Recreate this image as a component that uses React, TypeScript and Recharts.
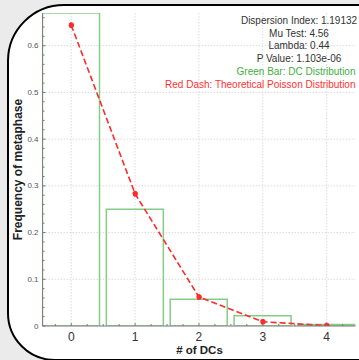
import React from 'react';
import { ComposedChart, Bar, Line, XAxis, YAxis, CartesianGrid } from 'recharts';

// number of DCs per metaphase
const dcCounts = [0, 1, 2, 3, 4];
// observed frequency (green bars)
const observed = [0.67, 0.25, 0.057, 0.022, 0.003];
// theoretical poisson, lambda = 0.44 (red dash)
const poisson = [0.644, 0.283, 0.062, 0.009, 0.001];

const xMajorTicks = [0, 1, 2, 3, 4];
const yMajorTicks = [0, 0.1, 0.2, 0.3, 0.4, 0.5, 0.6];

const statsLines = [
  'Dispersion Index: 1.19132',
  'Mu Test: 4.56',
  'Lambda: 0.44',
  'P Value: 1.103e-06',
];
const legendLines = [
  { text: 'Green Bar: DC Distribution', color: '#3fae3f' },
  { text: 'Red Dash: Theoretical Poisson Distribution', color: '#ff3030' },
];

const data = dcCounts.map((k, i) => ({ k, observed: observed[i], poisson: poisson[i] }));

// minor ticks (axis decoration only)
const xTicks: number[] = [];
for (let i = -1; i <= 17; i++) xTicks.push(i * 0.25);
const yTicks: number[] = [];
for (let i = 0; i <= 33; i++) yTicks.push(Math.round(i * 2) / 100);

const isMajor = (v: number, step: number) => Math.abs(v / step - Math.round(v / step)) < 1e-6;

const font = '"Liberation Sans", Arial, sans-serif';

const YTick = (props: any) => {
  const { x, y, payload } = props;
  const v = payload.value as number;
  const major = isMajor(v, 0.1);
  const ax = x + 4;
  return (
    <g>
      <line x1={ax} x2={ax + (major ? 3 : 2)} y1={y} y2={y} stroke="#777" />
      {major && (
        <text x={x} y={y} dy="0.33em" textAnchor="end" fontSize={8} fill="#555" fontFamily={font}>
          {v === 0 ? '0' : v.toFixed(1)}
        </text>
      )}
    </g>
  );
};

const XTick = (props: any) => {
  const { x, y, payload } = props;
  const v = payload.value as number;
  const major = isMajor(v, 1);
  return (
    <g>
      <line x1={x} x2={x} y1={y} y2={y - (major ? 3 : 2)} stroke="#777" />
      {major && (
        <text x={x} y={y + 14.5} textAnchor="middle" fontSize={12} fill="#333" fontFamily={font}>
          {v}
        </text>
      )}
    </g>
  );
};

const App = () => {
  return (
    <div
      style={{
        position: 'absolute',
        left: 0,
        top: 0,
        width: 359,
        height: 360,
        overflow: 'hidden',
        background: '#ebebeb',
      }}
    >
      <div
        style={{
          position: 'absolute',
          left: 6.75,
          top: 4.25,
          width: 420,
          height: 356.5,
          boxSizing: 'border-box',
          border: '2.5px solid #000',
          borderTopLeftRadius: 57,
          borderBottomLeftRadius: 48,
          background: '#fff',
        }}
      />
      <div style={{ position: 'absolute', left: 0, top: 0 }}>
        <ComposedChart
          width={359}
          height={360}
          data={data}
          margin={{ top: 13, right: 3.6, bottom: 4, left: 0 }}
          barCategoryGap="5%"
        >
          <CartesianGrid
            stroke="#dcdcdc"
            strokeDasharray="1.5 1.5"
            horizontalValues={yMajorTicks}
            verticalValues={xMajorTicks}
          />
          <XAxis
            dataKey="k"
            type="number"
            domain={[-0.45, 4.45]}
            allowDataOverflow
            ticks={xTicks}
            interval={0}
            height={30}
            tickSize={0}
            tickMargin={0}
            tickLine={false}
            axisLine={{ stroke: '#808080' }}
            tick={<XTick />}
          />
          <YAxis
            type="number"
            domain={[0, 0.67]}
            allowDataOverflow
            ticks={yTicks}
            interval={0}
            width={42.5}
            tickSize={0}
            tickMargin={4}
            tickLine={false}
            axisLine={{ stroke: '#808080' }}
            tick={<YTick />}
          />
          <Bar
            dataKey="observed"
            fill="none"
            stroke="#86cc86"
            strokeWidth={1.5}
            isAnimationActive={false}
          />
          <Line
            dataKey="poisson"
            type="linear"
            stroke="#ff2a2a"
            strokeWidth={1.6}
            strokeDasharray="6 3"
            dot={{ r: 2.5, fill: '#ff2a2a', stroke: '#ff2a2a', strokeWidth: 1 }}
            isAnimationActive={false}
          />
        </ComposedChart>
      </div>
      <svg
        width={359}
        height={360}
        style={{ position: 'absolute', left: 0, top: 0, pointerEvents: 'none' }}
        fontFamily={font}
      >
        {statsLines.map((t, i) => (
          <text key={t} x={299} y={24 + i * 12.7} textAnchor="middle" fontSize={10} fill="#333">
            {t}
          </text>
        ))}
        {legendLines.map((l, i) => (
          <text key={l.text} x={355.5} y={24 + (i + 4) * 12.7} textAnchor="end" fontSize={10} fill={l.color}>
            {l.text}
          </text>
        ))}
        <text
          x={18}
          y={169.5}
          transform="rotate(-90 18 169.5)"
          textAnchor="middle"
          dominantBaseline="central"
          fontSize={12}
          fontWeight="bold"
          fill="#222"
        >
          Frequency of metaphase
        </text>
        <text x={199.5} y={354} textAnchor="middle" fontSize={11.5} fontWeight="bold" fill="#222">
          # of DCs
        </text>
      </svg>
    </div>
  );
};

export default App;
